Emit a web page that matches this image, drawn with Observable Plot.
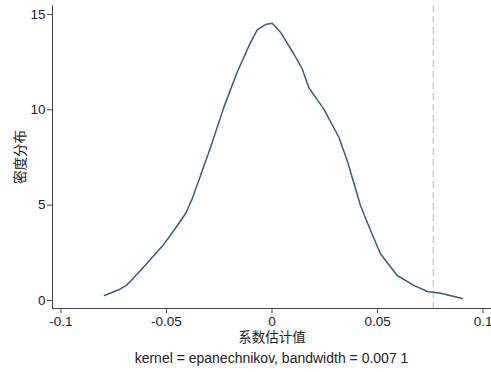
<!DOCTYPE html>
<html><head><meta charset="utf-8">
<script src="https://cdn.jsdelivr.net/npm/d3@7"></script>
<script src="https://cdn.jsdelivr.net/npm/@observablehq/plot@0.6"></script>
<style>
body{margin:0;background:#fff;font-family:"Liberation Sans",Arial,"Noto Sans CJK SC",sans-serif}
#cap{width:439px;margin-left:52px;text-align:center;font-size:14px;line-height:16px;color:#222;margin-top:4px}
</style></head>
<body><div id="chart"></div><div id="cap"></div>
<script>
const coefX = [-0.0794,-0.0726,-0.069,-0.0623,-0.0552,-0.0513,-0.0465,-0.041,-0.0378,-0.0347,-0.0291,-0.0228,-0.0165,-0.0105,-0.007,-0.0031,0.0001,0.004,0.0103,0.0143,0.0175,0.0245,0.0317,0.0356,0.0396,0.0419,0.0467,0.0514,0.0593,0.0672,0.0736,0.0799,0.0901];
const densityY = [0.26,0.56,0.79,1.57,2.45,2.94,3.67,4.55,5.33,6.29,8.04,10.14,11.97,13.46,14.19,14.47,14.54,14.07,12.94,12.15,11.15,10.05,8.56,7.34,5.86,4.98,3.67,2.45,1.31,0.79,0.47,0.38,0.1];
const refLine = [0.0764];
const xTicks = [-0.1,-0.05,0,0.05,0.1];
const yTicks = [0,5,10,15];
const xLabel = "系数估计值";
const yLabel = "密度分布";
const caption = "kernel = epanechnikov, bandwidth = 0.007 1";

const data = coefX.map((x,i)=>({x, y: densityY[i]}));

const chart = Plot.plot({
  width: 491, height: 346,
  marginLeft: 52, marginRight: 0, marginTop: 5, marginBottom: 38,
  style: {fontFamily: '"Liberation Sans", Arial, "Noto Sans CJK SC", sans-serif', fontSize: "13px", color: "#222", background: "#fff"},
  x: {domain: [-0.104, 0.104]},
  y: {domain: [-0.42, 15.47]},
  marks: [
    Plot.frame({anchor: "left", stroke: "#444"}),
    Plot.frame({anchor: "bottom", stroke: "#444"}),
    Plot.axisX({ticks: xTicks, tickFormat: d => String(d), tickSize: 5, tickPadding: 3, stroke: "#444",
      label: xLabel, labelAnchor: "center", labelArrow: "none", labelOffset: 33, fontSize: 13.5}),
    Plot.axisY({ticks: yTicks, tickFormat: d => String(d), tickSize: 5, tickPadding: 2, stroke: "#444",
      label: yLabel, labelAnchor: "center", labelArrow: "none", labelOffset: 37, fontSize: 13.5}),
    Plot.ruleX(refLine, {stroke: "#c8d3cf", strokeWidth: 1.5, strokeDasharray: "7,4"}),
    Plot.line(data, {x: "x", y: "y", stroke: "#3a5a85", strokeWidth: 1.5})
  ]
});
document.getElementById("chart").appendChild(chart);
document.getElementById("cap").textContent = caption;
</script>
</body></html>
